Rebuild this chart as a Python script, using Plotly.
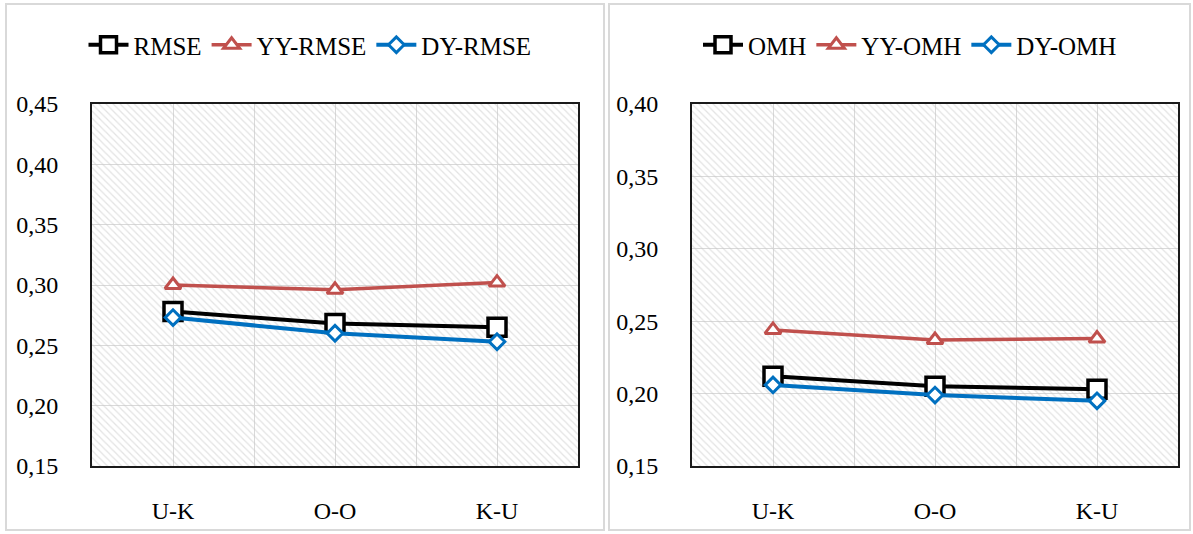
import plotly.graph_objects as go

categories = ["U-K", "O-O", "K-U"]

rmse = [0.278, 0.268, 0.265]
yy_rmse = [0.300, 0.296, 0.302]
dy_rmse = [0.273, 0.260, 0.253]

omh = [0.212, 0.205, 0.203]
yy_omh = [0.244, 0.237, 0.238]
dy_omh = [0.206, 0.199, 0.195]

left_ticks = [0.15, 0.20, 0.25, 0.30, 0.35, 0.40, 0.45]
right_ticks = [0.15, 0.20, 0.25, 0.30, 0.35, 0.40]

FONT = "Liberation Serif"
BLACK = "#000000"
RED = "#C0504D"
BLUE = "#0070C0"

W, H = 1193, 534
xidx = list(range(len(categories)))
xr = [-0.5, len(categories) - 0.5]

fig = go.Figure()


def add_panel(xa, ya, yrange, series, legend):
    # hatched plot-area background
    fig.add_trace(go.Scatter(
        x=[xr[0], xr[1], xr[1], xr[0], xr[0]],
        y=[yrange[0], yrange[0], yrange[1], yrange[1], yrange[0]],
        xaxis=xa, yaxis=ya, mode="lines", line=dict(width=0),
        fill="toself", fillcolor="rgba(0,0,0,0)",
        fillpattern=dict(shape="\\", fgcolor="#c8c8c8", bgcolor="rgba(0,0,0,0)",
                         size=5, solidity=0.25),
        showlegend=False, hoverinfo="skip"))
    for name, vals, color, sym, msize, lw in series:
        fig.add_trace(go.Scatter(
            x=xidx, y=vals, name=name, xaxis=xa, yaxis=ya, legend=legend,
            mode="lines+markers",
            line=dict(color=color, width=lw),
            marker=dict(symbol=sym, size=msize, color="white",
                        line=dict(color=color, width=3.5 if sym == "square" else 3)),
        ))


add_panel("x", "y", [0.15, 0.45], [
    ("RMSE", rmse, BLACK, "square", 18, 4),
    ("YY-RMSE", yy_rmse, RED, "triangle-up", 14, 3.5),
    ("DY-RMSE", dy_rmse, BLUE, "diamond", 12, 4),
], "legend")

add_panel("x2", "y2", [0.15, 0.40], [
    ("OMH", omh, BLACK, "square", 18, 4),
    ("YY-OMH", yy_omh, RED, "triangle-up", 14, 3.5),
    ("DY-OMH", dy_omh, BLUE, "diamond", 12, 4),
], "legend2")

ytop = (H - 104) / H
ybot = (H - 466) / H

xcommon = dict(range=xr, tickvals=xidx, ticktext=categories, showgrid=True,
               gridcolor="#d9d9d9", gridwidth=1,
               minor=dict(showgrid=True, tickvals=[0.5, 1.5], gridcolor="#d9d9d9", gridwidth=1),
               showline=True, linecolor="#1a1a1a", linewidth=2, mirror=True,
               ticks="", zeroline=False, ticklabelstandoff=22, automargin=False,
               tickfont=dict(family=FONT, size=24, color="black"), fixedrange=True)
ycommon = dict(showgrid=True, gridcolor="#d9d9d9", gridwidth=1, showline=True,
               linecolor="#1a1a1a", linewidth=2, mirror=True, ticks="", zeroline=False,
               tickformat=".2f", ticklabelstandoff=27, automargin=False,
               tickfont=dict(family=FONT, size=24, color="black"), fixedrange=True)

legcommon = dict(orientation="h", yanchor="middle", xanchor="center",
                 y=(H - 45) / H, font=dict(family=FONT, size=25, color="black"),
                 bgcolor="rgba(0,0,0,0)", itemwidth=40, tracegroupgap=0)

fig.update_layout(
    width=W, height=H, autosize=False,
    margin=dict(l=0, r=0, t=0, b=0, pad=0, autoexpand=False),
    paper_bgcolor="white", plot_bgcolor="white",
    separators=",.",
    xaxis=dict(domain=[92 / W, 578 / W], anchor="y", **xcommon),
    yaxis=dict(domain=[ybot, ytop], anchor="x", range=[0.15, 0.45],
               tickvals=left_ticks, **ycommon),
    xaxis2=dict(domain=[692 / W, 1178 / W], anchor="y2", **xcommon),
    yaxis2=dict(domain=[ybot, ytop], anchor="x2", range=[0.15, 0.40],
                tickvals=right_ticks, **ycommon),
    legend=dict(x=310 / W, **legcommon),
    legend2=dict(x=910 / W, **legcommon),
    shapes=[
        dict(type="rect", xref="paper", yref="paper", x0=6 / W, x1=604 / W,
             y0=(H - 530) / H, y1=(H - 4) / H, line=dict(color="#d9d9d9", width=2)),
        dict(type="rect", xref="paper", yref="paper", x0=609 / W, x1=1190 / W,
             y0=(H - 530) / H, y1=(H - 4) / H, line=dict(color="#d9d9d9", width=2)),
    ],
    showlegend=True,
)

fig.write_html("out.html")
